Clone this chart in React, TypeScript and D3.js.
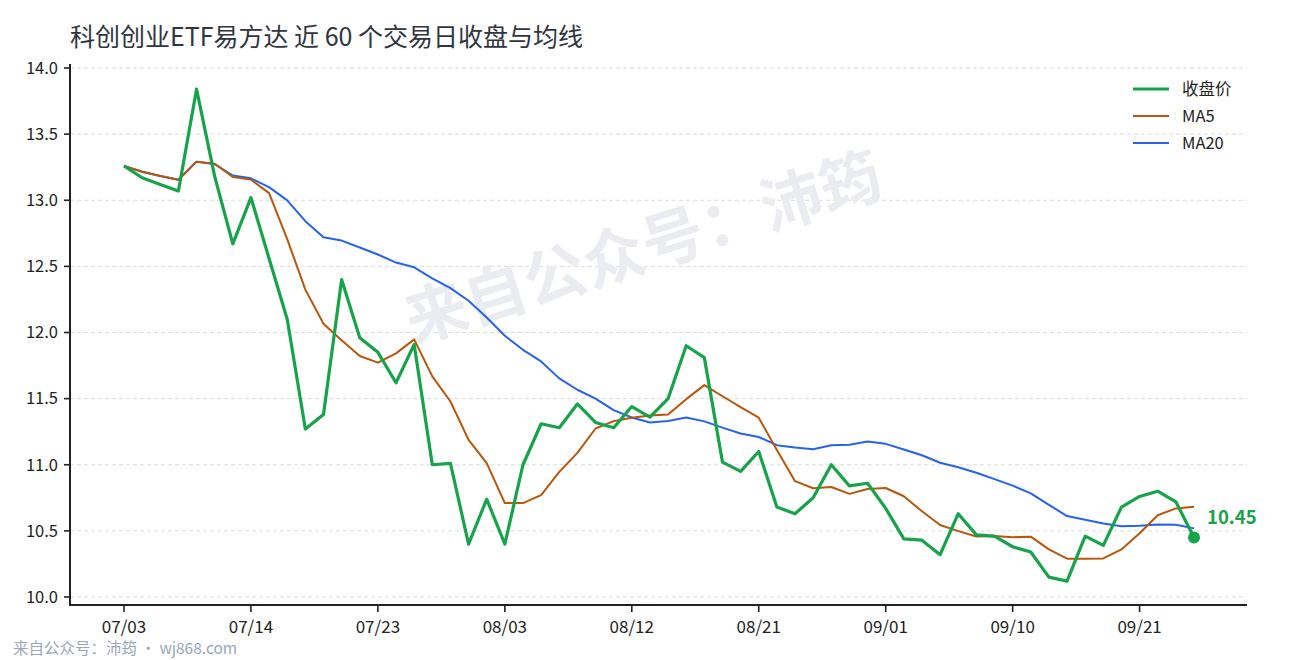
import { scaleLinear, scalePoint, line } from 'd3'

const dates = [
  '07/03', '07/06', '07/07', '07/08', '07/09', '07/10', '07/13', '07/14', '07/15', '07/16',
  '07/17', '07/20', '07/21', '07/22', '07/23', '07/24', '07/27', '07/28', '07/29', '07/30',
  '07/31', '08/03', '08/04', '08/05', '08/06', '08/07', '08/10', '08/11', '08/12', '08/13',
  '08/14', '08/17', '08/18', '08/19', '08/20', '08/21', '08/24', '08/25', '08/26', '08/27',
  '08/28', '08/31', '09/01', '09/02', '09/03', '09/04', '09/07', '09/08', '09/09', '09/10',
  '09/11', '09/14', '09/15', '09/16', '09/17', '09/18', '09/21', '09/22', '09/23', '09/24',
]

const close = [
  13.26, 13.17, 13.12, 13.07, 13.84, 13.18, 12.67, 13.02, 12.56, 12.1,
  11.27, 11.38, 12.4, 11.96, 11.85, 11.62, 11.91, 11.0, 11.01, 10.4,
  10.74, 10.4, 11.0, 11.31, 11.28, 11.46, 11.32, 11.28, 11.44, 11.36,
  11.5, 11.9, 11.81, 11.02, 10.95, 11.1, 10.68, 10.63, 10.75, 11.0,
  10.84, 10.86, 10.67, 10.44, 10.43, 10.32, 10.63, 10.47, 10.46, 10.38,
  10.34, 10.15, 10.12, 10.46, 10.39, 10.68, 10.76, 10.8, 10.72, 10.45,
]

const ma5 = [
  13.26, 13.215, 13.183, 13.155, 13.292, 13.276, 13.176, 13.156, 13.054, 12.706,
  12.324, 12.066, 11.942, 11.822, 11.772, 11.842, 11.948, 11.668, 11.478, 11.188,
  11.012, 10.71, 10.71, 10.77, 10.946, 11.09, 11.274, 11.33, 11.356, 11.372,
  11.38, 11.496, 11.602, 11.518, 11.436, 11.356, 11.112, 10.876, 10.822, 10.832,
  10.78, 10.816, 10.824, 10.762, 10.648, 10.544, 10.498, 10.458, 10.462, 10.452,
  10.456, 10.36, 10.29, 10.29, 10.292, 10.36, 10.482, 10.618, 10.67, 10.682,
]

const ma20 = [
  13.26, 13.215, 13.183, 13.155, 13.292, 13.273, 13.187, 13.166, 13.099, 12.999,
  12.842, 12.72, 12.695, 12.643, 12.59, 12.529, 12.493, 12.41, 12.336, 12.24,
  12.114, 11.975, 11.869, 11.781, 11.653, 11.567, 11.5, 11.413, 11.357, 11.32,
  11.331, 11.357, 11.328, 11.281, 11.236, 11.21, 11.148, 11.13, 11.117, 11.147,
  11.152, 11.175, 11.158, 11.115, 11.072, 11.015, 10.981, 10.94, 10.891, 10.842,
  10.784, 10.697, 10.612, 10.584, 10.556, 10.535, 10.539, 10.548, 10.546, 10.519,
]

const yTicks = [10.0, 10.5, 11.0, 11.5, 12.0, 12.5, 13.0, 13.5, 14.0]
const xTickDates = ['07/03', '07/14', '07/23', '08/03', '08/12', '08/21', '09/01', '09/10', '09/21']

const series = [
  { name: '收盘价', values: close, color: '#16a34a', width: 3.2 },
  { name: 'MA5', values: ma5, color: '#b8560c', width: 2 },
  { name: 'MA20', values: ma20, color: '#2563eb', width: 2 },
]

const FONT = '"Noto Sans CJK SC", "Noto Sans", sans-serif'

export default function App() {
  const width = 1290
  const height = 660
  const left = 70
  const right = 1247
  const top = 64
  const bottom = 605

  const x = scalePoint<string>().domain(dates).range([124, 1194])
  const y = scaleLinear().domain([10, 14]).range([597, 68])

  const path = (vals: number[]) =>
    line<number>()
      .x((_, i) => x(dates[i]) ?? 0)
      .y((d) => y(d))(vals) ?? ''

  const last = close.length - 1
  const lastX = x(dates[last]) ?? 0
  const lastY = y(close[last])

  return (
    <svg
      width={width}
      height={height}
      viewBox={`0 0 ${width} ${height}`}
      style={{ position: 'absolute', left: 0, top: 0, background: '#fff', fontFamily: FONT }}
    >
      <rect width={width} height={height} fill="#fff" />
      <text x={70} y={46} fontSize={25} fill="#2f3640">
        科创创业ETF易方达 近 60 个交易日收盘与均线
      </text>

      {/* grid */}
      {yTicks.map((t) => (
        <line key={`g-${t}`} x1={left} x2={right} y1={y(t)} y2={y(t)} stroke="#dcdcdc" strokeWidth={1} strokeDasharray="4 3" />
      ))}

      {/* watermark */}
      <text
        transform="translate(642,243) rotate(-17.5)"
        textAnchor="middle"
        dominantBaseline="central"
        fontSize={62}
        fontWeight={700}
        fill="#eaecf1"
      >
        来自公众号：沛筠
      </text>

      {/* axes */}
      <line x1={left} x2={left} y1={top} y2={bottom} stroke="#222" strokeWidth={2} />
      <line x1={left - 1} x2={right} y1={bottom} y2={bottom} stroke="#222" strokeWidth={2} />
      {yTicks.map((t) => (
        <g key={`y-${t}`}>
          <line x1={left - 6} x2={left} y1={y(t)} y2={y(t)} stroke="#222" strokeWidth={1.6} />
          <text x={58} y={y(t)} dy="0.35em" textAnchor="end" fontSize={16.5} fill="#222">
            {t.toFixed(1)}
          </text>
        </g>
      ))}
      {xTickDates.map((d) => (
        <g key={`x-${d}`}>
          <line x1={x(d)} x2={x(d)} y1={bottom} y2={bottom + 7} stroke="#222" strokeWidth={1.6} />
          <text x={x(d)} y={633} textAnchor="middle" fontSize={17} fill="#222">
            {d}
          </text>
        </g>
      ))}

      {/* lines */}
      {series
        .slice()
        .reverse()
        .map((s) => (
          <path key={s.name} d={path(s.values)} fill="none" stroke={s.color} strokeWidth={s.width} strokeLinejoin="round" />
        ))}

      <circle cx={lastX} cy={lastY} r={6} fill="#16a34a" />
      <text x={lastX + 13} y={lastY - 13} fontSize={18.5} fontWeight={700} fill="#16a34a">
        {close[last].toFixed(2)}
      </text>

      {/* legend */}
      {series.map((s, i) => (
        <g key={`l-${s.name}`} transform={`translate(1133,${89 + i * 27})`}>
          <line x1={0} x2={36} y1={0} y2={0} stroke={s.color} strokeWidth={s.width} />
          <text x={49} y={0} dy="0.35em" fontSize={16.5} fill="#222">
            {s.name}
          </text>
        </g>
      ))}

      <text x={13} y={654} fontSize={15.5} fill="#9aa6bf">
        来自公众号：沛筠 · wj868.com
      </text>
    </svg>
  )
}
